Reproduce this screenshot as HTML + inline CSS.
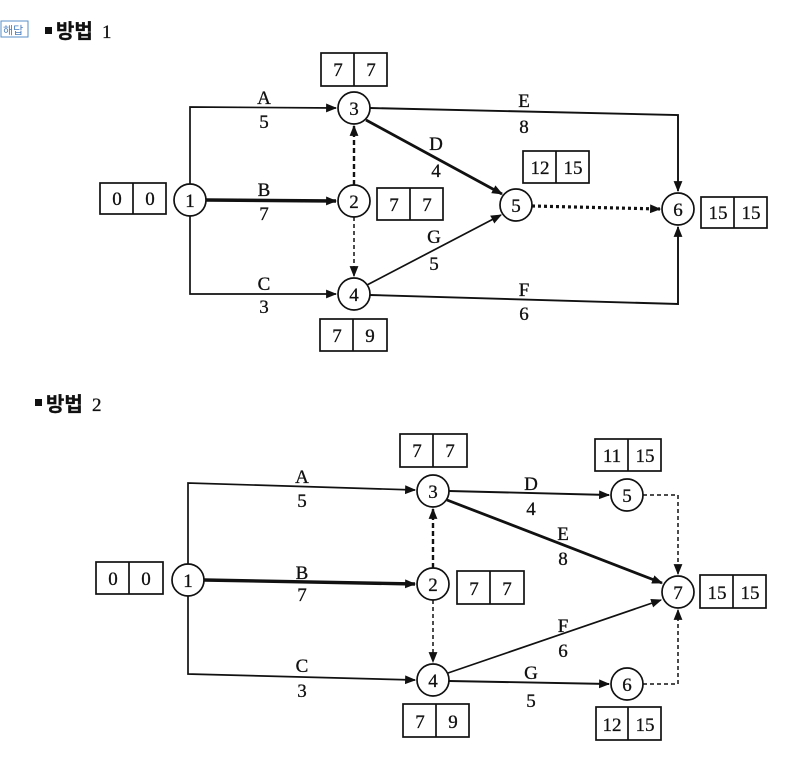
<!DOCTYPE html>
<html><head><meta charset="utf-8">
<style>
html,body{margin:0;padding:0;background:#fff;}
svg{display:block;}
text{font-family:"Liberation Serif","Noto Serif CJK SC",serif;fill:#111;stroke:#111;stroke-width:0.3;}
.k{font-family:"Liberation Sans","Noto Sans CJK KR",sans-serif;}
</style></head><body>
<svg width="790" height="769" viewBox="0 0 790 769" xmlns="http://www.w3.org/2000/svg">
<defs>
<marker id="ar" viewBox="0 0 10 10" refX="9" refY="5" markerWidth="11" markerHeight="11" markerUnits="userSpaceOnUse" orient="auto">
<path d="M0,1 L10,5 L0,9 z" fill="#111"/></marker>
</defs>
<rect x="1" y="21" width="27" height="16" stroke="#5a8fc8" stroke-width="1" fill="none"/>
<text x="3" y="34" class="k" font-size="11" style="fill:#4a7fbf;stroke:none">해답</text>
<rect x="45" y="27" width="7" height="7" fill="#111"/>
<text x="56" y="38" class="k" font-size="20" font-weight="bold">방법</text>
<text x="102" y="38" font-size="19">1</text>

<!-- Diagram 1 -->
<g stroke="#111" fill="none" stroke-width="1.7">
<polyline points="190,184 190,107 336,108" marker-end="url(#ar)"/>
<polyline points="190,216 190,294 336,294" marker-end="url(#ar)"/>
<line x1="206" y1="200" x2="336" y2="201" stroke-width="3.4" marker-end="url(#ar)"/>
<polyline points="370,108 678,115 678,191" stroke-width="1.9" marker-end="url(#ar)"/>
<polyline points="370,295 678,304 678,227" stroke-width="1.9" marker-end="url(#ar)"/>
<line x1="366" y1="120" x2="502" y2="194" stroke-width="2.8" marker-end="url(#ar)"/>
<line x1="367" y1="285" x2="501" y2="215" marker-end="url(#ar)"/>
<line x1="354" y1="185" x2="354" y2="126" stroke-width="2.4" stroke-dasharray="5,3" marker-end="url(#ar)"/>
<line x1="354" y1="217" x2="354" y2="276" stroke-width="1.5" stroke-dasharray="4,3" marker-end="url(#ar)"/>
<line x1="532" y1="206" x2="660" y2="209" stroke-width="3.2" stroke-dasharray="3,3" marker-end="url(#ar)"/>
</g>
<g stroke="#111" fill="#fff" stroke-width="1.7">
<circle cx="190" cy="200" r="16"/>
<circle cx="354" cy="108" r="16"/>
<circle cx="354" cy="201" r="16"/>
<circle cx="354" cy="294" r="16"/>
<circle cx="516" cy="205" r="16"/>
<circle cx="678" cy="209" r="16"/>
</g>
<g font-size="19" text-anchor="middle">
<text x="190" y="207">1</text><text x="354" y="115">3</text><text x="354" y="208">2</text>
<text x="354" y="301">4</text><text x="516" y="212">5</text><text x="678" y="216">6</text>
<text x="264" y="104">A</text><text x="264" y="128">5</text>
<text x="264" y="196">B</text><text x="264" y="220">7</text>
<text x="264" y="290">C</text><text x="264" y="313">3</text>
<text x="524" y="107">E</text><text x="524" y="133">8</text>
<text x="436" y="150">D</text><text x="436" y="177">4</text>
<text x="434" y="243">G</text><text x="434" y="270">5</text>
<text x="524" y="296">F</text><text x="524" y="320">6</text>
</g>

<!-- Diagram 2 -->
<rect x="35" y="399" width="7" height="7" fill="#111"/>
<text x="46" y="411" class="k" font-size="20" font-weight="bold">방법</text>
<text x="92" y="411" font-size="19">2</text>

<g stroke="#111" fill="none" stroke-width="1.7">
<polyline points="188,564 188,483 415,490" marker-end="url(#ar)"/>
<polyline points="188,596 188,674 415,680" marker-end="url(#ar)"/>
<line x1="204" y1="580" x2="415" y2="584" stroke-width="3.4" marker-end="url(#ar)"/>
<line x1="449" y1="491" x2="609" y2="495" stroke-width="1.9" marker-end="url(#ar)"/>
<line x1="447" y1="500" x2="662" y2="583" stroke-width="2.8" marker-end="url(#ar)"/>
<line x1="448" y1="673" x2="661" y2="600" marker-end="url(#ar)"/>
<line x1="449" y1="681" x2="609" y2="684" stroke-width="1.9" marker-end="url(#ar)"/>
<line x1="433" y1="568" x2="433" y2="509" stroke-width="2.4" stroke-dasharray="5,3" marker-end="url(#ar)"/>
<line x1="433" y1="600" x2="433" y2="662" stroke-width="1.5" stroke-dasharray="4,3" marker-end="url(#ar)"/>
<polyline points="643,495 678,495 678,574" stroke-width="1.5" stroke-dasharray="4,3" marker-end="url(#ar)"/>
<polyline points="643,684 678,684 678,610" stroke-width="1.5" stroke-dasharray="4,3" marker-end="url(#ar)"/>
</g>
<g stroke="#111" fill="#fff" stroke-width="1.7">
<circle cx="188" cy="580" r="16"/>
<circle cx="433" cy="491" r="16"/>
<circle cx="433" cy="584" r="16"/>
<circle cx="433" cy="680" r="16"/>
<circle cx="627" cy="495" r="16"/>
<circle cx="627" cy="684" r="16"/>
<circle cx="678" cy="592" r="16"/>
</g>
<g font-size="19" text-anchor="middle">
<text x="188" y="587">1</text><text x="433" y="498">3</text><text x="433" y="591">2</text>
<text x="433" y="687">4</text><text x="627" y="502">5</text><text x="627" y="691">6</text><text x="678" y="599">7</text>
<text x="302" y="483">A</text><text x="302" y="507">5</text>
<text x="302" y="579">B</text><text x="302" y="601">7</text>
<text x="302" y="672">C</text><text x="302" y="697">3</text>
<text x="531" y="490">D</text><text x="531" y="515">4</text>
<text x="563" y="540">E</text><text x="563" y="565">8</text>
<text x="563" y="632">F</text><text x="563" y="657">6</text>
<text x="531" y="679">G</text><text x="531" y="707">5</text>
</g>

<g stroke="#111" fill="#fff" stroke-width="1.7">
<rect x="321" y="53" width="66" height="33"/><line x1="354" y1="53" x2="354" y2="86"/>
<rect x="100" y="183" width="66" height="31"/><line x1="133" y1="183" x2="133" y2="214"/>
<rect x="377" y="188" width="66" height="32"/><line x1="410" y1="188" x2="410" y2="220"/>
<rect x="320" y="319" width="67" height="32"/><line x1="353" y1="319" x2="353" y2="351"/>
<rect x="523" y="151" width="66" height="32"/><line x1="556" y1="151" x2="556" y2="183"/>
<rect x="701" y="197" width="66" height="31"/><line x1="734" y1="197" x2="734" y2="228"/>
<rect x="400" y="434" width="67" height="33"/><line x1="433" y1="434" x2="433" y2="467"/>
<rect x="96" y="562" width="67" height="32"/><line x1="129" y1="562" x2="129" y2="594"/>
<rect x="457" y="571" width="67" height="33"/><line x1="490" y1="571" x2="490" y2="604"/>
<rect x="403" y="704" width="66" height="33"/><line x1="436" y1="704" x2="436" y2="737"/>
<rect x="595" y="439" width="66" height="32"/><line x1="628" y1="439" x2="628" y2="471"/>
<rect x="596" y="707" width="65" height="33"/><line x1="628" y1="707" x2="628" y2="740"/>
<rect x="700" y="575" width="66" height="33"/><line x1="733" y1="575" x2="733" y2="608"/>
</g>
<g font-size="19" text-anchor="middle">
<text x="338" y="76">7</text><text x="371" y="76">7</text>
<text x="117" y="205">0</text><text x="150" y="205">0</text>
<text x="394" y="211">7</text><text x="427" y="211">7</text>
<text x="337" y="342">7</text><text x="370" y="342">9</text>
<text x="540" y="174">12</text><text x="573" y="174">15</text>
<text x="718" y="219">15</text><text x="751" y="219">15</text>
<text x="417" y="457">7</text><text x="450" y="457">7</text>
<text x="113" y="585">0</text><text x="146" y="585">0</text>
<text x="474" y="595">7</text><text x="507" y="595">7</text>
<text x="420" y="728">7</text><text x="453" y="728">9</text>
<text x="612" y="462">11</text><text x="645" y="462">15</text>
<text x="612" y="731">12</text><text x="645" y="731">15</text>
<text x="717" y="599">15</text><text x="750" y="599">15</text>
</g>
</svg>
</body></html>
